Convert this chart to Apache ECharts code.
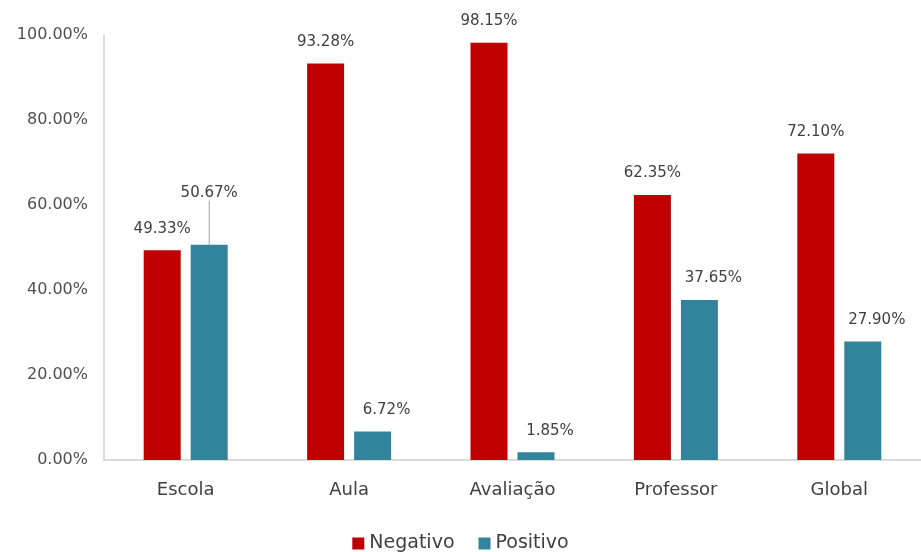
<!DOCTYPE html>
<html><head><meta charset="utf-8">
<script src="https://cdn.jsdelivr.net/npm/echarts@6/dist/echarts.min.js"></script>
<style>html,body{margin:0;padding:0;background:#fff}#c{width:921px;height:552px}</style>
</head><body><div id="c"></div>
<script>
const categories = ['Escola', 'Aula', 'Avaliação', 'Professor', 'Global'];
const negativo = [49.33, 93.28, 98.15, 62.35, 72.10];
const positivo = [50.67, 6.72, 1.85, 37.65, 27.90];
const yTicks = [0, 20, 40, 60, 80, 100];

const font = '"DejaVu Sans", sans-serif';
const chart = echarts.init(document.getElementById('c'));
const labelBase = {show: true, position: 'top', distance: 14, color: '#404040', fontSize: 15, fontFamily: font,
  formatter: p => p.value.toFixed(2) + '%'};

chart.setOption({
  animation: false,
  grid: {left: 104, right: 0, top: 35, bottom: 92},
  legend: {bottom: -6, left: 'center', itemWidth: 12, itemHeight: 12, itemGap: 24, icon: 'rect',
    textStyle: {color: '#404040', fontSize: 19, fontFamily: font},
    data: ['Negativo', 'Positivo']},
  xAxis: {type: 'category', data: categories,
    axisLine: {lineStyle: {color: '#d0d0d0', width: 1.5}}, axisTick: {show: false},
    axisLabel: {color: '#404040', fontSize: 18, fontFamily: font, margin: 21}},
  yAxis: {type: 'value', min: 0, max: 100, interval: 20,
    axisLine: {show: true, lineStyle: {color: '#d0d0d0', width: 1.5}}, axisTick: {show: false},
    splitLine: {show: false},
    axisLabel: {color: '#505050', fontSize: 16, fontFamily: font, margin: 16,
      formatter: v => yTicks.includes(v) ? v.toFixed(2) + '%' : ''}},
  series: [
    {name: 'Negativo', type: 'bar', barWidth: 37, barGap: '27%', itemStyle: {color: '#C00000'},
      label: Object.assign({}, labelBase, {offset: [0, 0]}),
      data: negativo},
    {name: 'Positivo', type: 'bar', barWidth: 37, itemStyle: {color: '#31849B'},
      label: labelBase,
      labelLayout: p => p.dataIndex === 0 ? {dx: 0, dy: -30} : {dx: 14},
      data: positivo.map((v, i) => i === 0
        ? {value: v, labelLine: {show: true, lineStyle: {color: '#a0a0a0', width: 1}}}
        : {value: v, labelLine: {show: false}})}
  ]
});
</script></body></html>
